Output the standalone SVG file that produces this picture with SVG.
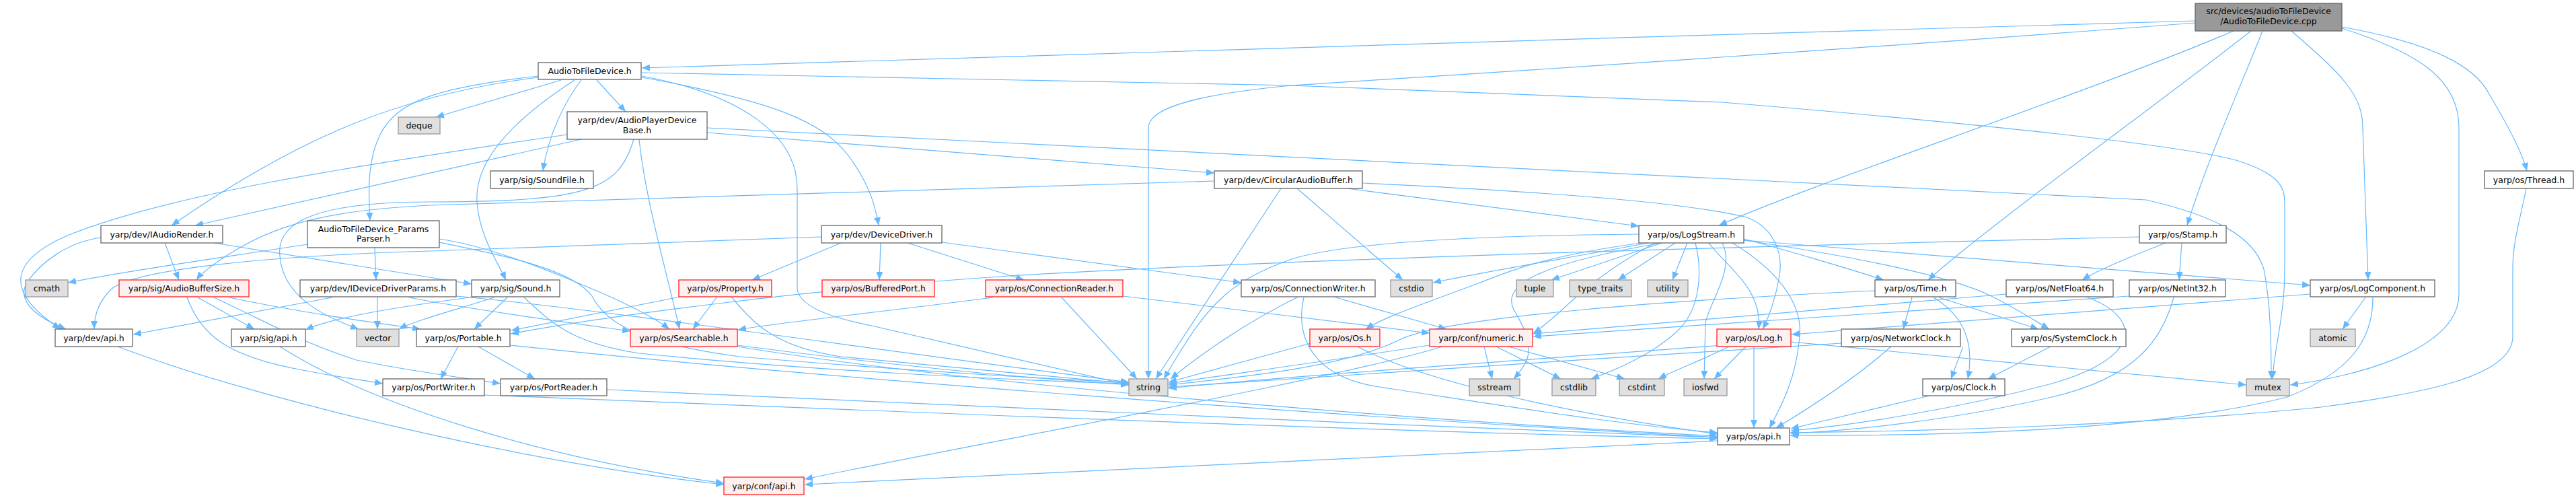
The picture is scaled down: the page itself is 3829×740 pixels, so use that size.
<svg xmlns="http://www.w3.org/2000/svg" width="3829" height="740" viewBox="0 0 3829 740">
<style>
.n rect{fill:#ffffff;stroke:#666666;stroke-width:1.3}
.r rect{fill:#fff0f0;stroke:#ff2020;stroke-width:1.3}
.g rect{fill:#e0e0e0;stroke:#999999;stroke-width:1.3}
.c rect{fill:#999999;stroke:#666666;stroke-width:1.3}
text{font-family:"DejaVu Sans","Liberation Sans",sans-serif;font-size:12.5px;text-anchor:middle;fill:#000}
#edges path{fill:none;stroke:#63b8ff;stroke-width:1.2;marker-end:url(#a)}
</style>
<defs>
<marker id="a" markerWidth="12" markerHeight="10" refX="12" refY="5" orient="auto" markerUnits="userSpaceOnUse"><path d="M0,0L12,5L0,10z" fill="#63b8ff" stroke="none"/></marker>
</defs>
<rect width="3829" height="740" fill="#ffffff"/>
<g id="edges">
<path d="M3263,31 C2500,52 1500,85 954,101"/>
<path d="M3263,34 C2600,85 2100,115 1920,127 C1780,140 1707,160 1707,190 L1707,563"/>
<path d="M3320,46 C3100,140 2700,270 2555,335"/>
<path d="M3346,46 C3200,160 2950,340 2866,416"/>
<path d="M3363,46 C3330,130 3280,240 3251,335"/>
<path d="M3406,46 C3480,110 3512,140 3512,190 L3520,416"/>
<path d="M3481,42 C3600,80 3655,120 3655,190 L3655,437 C3655,520 3500,560 3404,572"/>
<path d="M3481,40 C3620,65 3680,100 3700,140 C3730,190 3750,230 3756,254"/>
<path d="M834,119 L648,174"/>
<path d="M887,119 L930,166"/>
<path d="M864,119 C840,150 815,200 807,254"/>
<path d="M854,119 C760,180 705,240 709,300 C712,350 740,390 752,416"/>
<path d="M800,113 C650,130 590,150 565,200 C545,240 548,290 550,328"/>
<path d="M800,115 C600,140 450,200 255,335"/>
<path d="M954,115 C1150,150 1220,180 1260,230 C1290,270 1300,300 1306,335"/>
<path d="M954,113 C1100,140 1185,200 1185,280 L1185,430 C1190,460 1250,475 1300,485 L1678,572"/>
<path d="M954,108 L1920,127 L2560,152 C2900,180 3250,215 3330,240 C3390,260 3396,280 3396,300 L3396,400 C3396,470 3380,520 3378,563"/>
<path d="M843,200 C500,250 250,290 100,350 C20,385 0,430 90,489"/>
<path d="M864,207 L290,335"/>
<path d="M942,207 C920,280 880,300 640,300 C470,300 410,330 416,380 C420,440 480,470 533,489"/>
<path d="M950,207 C960,300 990,400 1010,489"/>
<path d="M1051,190 L3190,297 C3290,320 3350,350 3365,400 C3375,450 3376,510 3376,563"/>
<path d="M1051,197 L1805,257"/>
<path d="M1805,269 L640,305 C500,312 420,330 353,370 C320,390 300,405 292,416"/>
<path d="M2002,280 L2436,336"/>
<path d="M2025,272 C2300,285 2500,300 2597,323 C2640,340 2650,380 2645,410 C2640,440 2630,470 2620,489"/>
<path d="M1904,280 L1718,563"/>
<path d="M1928,280 L2085,416"/>
<path d="M3755,280 C3745,330 3735,360 3735,400 L3735,500 C3735,560 3600,585 3450,605 C3200,630 2900,640 2661,643"/>
<path d="M3527,442 C3527,500 3500,550 3400,590 C3200,640 2900,648 2661,647"/>
<path d="M3516,442 L3482,489"/>
<path d="M3434,437 L2663,497"/>
<path d="M3243,361 L3239,416"/>
<path d="M3219,361 C3170,380 3120,400 3095,416"/>
<path d="M3180,352 C2800,362 2000,380 1500,410 C1200,430 900,470 759,496"/>
<path d="M2450,361 C2350,380 2200,405 2130,420"/>
<path d="M2470,361 L2306,416"/>
<path d="M2490,361 L2405,416"/>
<path d="M2508,361 L2486,416"/>
<path d="M2440,361 C2300,380 2250,400 2200,420 C2120,450 2060,470 2030,489"/>
<path d="M2460,361 C2350,420 2320,470 2279,495"/>
<path d="M2470,361 C2300,390 2230,420 2250,460 C2280,510 2280,530 2250,563"/>
<path d="M2520,361 C2530,400 2530,460 2490,495 C2450,530 2400,550 2365,563"/>
<path d="M2560,361 C2580,400 2540,450 2535,480 L2533,563"/>
<path d="M2436,348 C2200,350 2000,360 1920,385 C1820,420 1790,460 1730,563"/>
<path d="M2540,361 C2570,400 2620,430 2614,489"/>
<path d="M2575,361 C2640,400 2680,450 2675,500 C2670,560 2650,600 2630,636"/>
<path d="M2592,355 C2650,370 2750,400 2800,416"/>
<path d="M2592,357 C2750,380 2900,410 2960,440 C3000,460 3030,480 3046,489"/>
<path d="M2592,357 L3434,424"/>
<path d="M2842,442 L2829,489"/>
<path d="M2882,442 L3030,489"/>
<path d="M2874,442 C2920,470 2935,510 2925,563"/>
<path d="M2787,432 C2500,445 2150,470 2080,505 C2000,545 1850,560 1737,572"/>
<path d="M2918,515 L2900,563"/>
<path d="M2811,515 C2760,560 2700,600 2640,636"/>
<path d="M2737,510 C2400,530 2000,560 1737,575"/>
<path d="M3048,515 L2955,563"/>
<path d="M2868,588 L2662,637"/>
<path d="M2982,437 L2279,496"/>
<path d="M3103,442 C3180,470 3190,530 3050,570 C2900,610 2750,632 2662,640"/>
<path d="M3165,440 L2279,500"/>
<path d="M3231,442 C3215,500 3180,560 3050,590 C2900,625 2750,640 2662,644"/>
<path d="M2607,515 L2607,636"/>
<path d="M2570,515 C2530,535 2490,550 2465,563"/>
<path d="M2595,515 L2548,563"/>
<path d="M2662,508 L3339,572"/>
<path d="M2560,513 C2200,540 1900,560 1737,577"/>
<path d="M2206,515 L2218,563"/>
<path d="M2224,515 L2320,563"/>
<path d="M2242,515 L2415,563"/>
<path d="M2144,515 C2000,560 1500,650 1196,712"/>
<path d="M2125,513 C1950,540 1800,560 1737,570"/>
<path d="M2018,515 C2100,560 2300,610 2553,645"/>
<path d="M1948,510 L1737,568"/>
<path d="M1985,442 L2150,489"/>
<path d="M1928,442 C1850,480 1780,530 1740,563"/>
<path d="M1938,442 C1925,500 1950,560 2050,575 C2250,605 2400,630 2553,643"/>
<path d="M1578,442 L1690,563"/>
<path d="M1476,442 C1300,465 1150,480 1097,490"/>
<path d="M1669,440 C1800,455 2000,480 2125,495"/>
<path d="M1066,441 L1030,489"/>
<path d="M1011,441 L760,491"/>
<path d="M1087,441 C1120,480 1150,515 1250,530 C1450,550 1600,563 1678,570"/>
<path d="M1096,513 C1300,540 1500,560 1678,572"/>
<path d="M1096,515 C1500,580 2200,630 2553,648"/>
<path d="M681,515 L655,563"/>
<path d="M711,515 L795,563"/>
<path d="M758,513 C1200,560 2000,620 2553,650"/>
<path d="M720,587 C1300,610 2000,640 2553,652"/>
<path d="M902,579 C1400,600 2000,630 2553,650"/>
<path d="M754,442 L705,489"/>
<path d="M705,441 C600,455 500,470 454,490"/>
<path d="M734,442 C680,460 620,475 593,489"/>
<path d="M779,442 C820,480 850,510 950,525 C1200,550 1500,565 1678,570"/>
<path d="M561,442 L561,489"/>
<path d="M494,442 L198,497"/>
<path d="M608,442 C700,460 850,480 937,492"/>
<path d="M678,440 C900,460 1300,520 1678,568"/>
<path d="M294,442 L378,489"/>
<path d="M341,442 C450,465 560,480 625,489"/>
<path d="M278,442 C300,500 340,530 450,550 C500,560 540,565 569,570"/>
<path d="M318,442 C400,480 450,510 530,535 C600,550 680,560 744,570"/>
<path d="M416,515 C550,600 800,680 1076,718"/>
<path d="M175,515 C400,600 800,690 1076,720"/>
<path d="M2553,655 C2000,680 1500,705 1196,720"/>
<path d="M150,353 C100,360 60,390 40,420 C25,445 50,470 98,489"/>
<path d="M245,361 L266,416"/>
<path d="M318,361 L701,422"/>
<path d="M457,363 C350,380 200,400 101,420"/>
<path d="M557,368 L559,416"/>
<path d="M653,355 C720,365 800,395 870,425 C930,450 970,470 995,489"/>
<path d="M653,360 C750,380 850,400 880,440 C900,480 950,510 1100,530 C1400,555 1600,565 1678,568"/>
<path d="M1221,352 C900,362 700,372 640,373 C400,380 200,400 165,430 C145,450 140,470 140,489"/>
<path d="M1250,361 L1118,416"/>
<path d="M1309,361 L1307,416"/>
<path d="M1349,361 L1522,416"/>
<path d="M1400,360 L1845,420"/>
</g>
<g id="n_cpp" class="c"><rect x="3263" y="5" width="218" height="41"/><text x="3372" y="21">src/devices/audioToFileDevice</text><text x="3372" y="36">/AudioToFileDevice.cpp</text></g>
<g id="n_atfd" class="n"><rect x="800" y="93" width="153" height="25"/><text x="876.5" y="110">AudioToFileDevice.h</text></g>
<g id="n_deque" class="g"><rect x="592" y="174" width="62" height="25"/><text x="623" y="191">deque</text></g>
<g id="n_apdb" class="n"><rect x="843" y="166" width="208" height="41"/><text x="947" y="183">yarp/dev/AudioPlayerDevice</text><text x="947" y="198">Base.h</text></g>
<g id="n_soundfile" class="n"><rect x="729" y="254" width="153" height="26"/><text x="805.5" y="271.5">yarp/sig/SoundFile.h</text></g>
<g id="n_cab" class="n"><rect x="1805" y="254" width="220" height="26"/><text x="1915" y="271.5">yarp/dev/CircularAudioBuffer.h</text></g>
<g id="n_thread" class="n"><rect x="3693" y="254" width="132" height="26"/><text x="3759" y="271.5">yarp/os/Thread.h</text></g>
<g id="n_iar" class="n"><rect x="150" y="335" width="181" height="26"/><text x="240.5" y="352.5">yarp/dev/IAudioRender.h</text></g>
<g id="n_pp" class="n"><rect x="457" y="328" width="196" height="40"/><text x="555" y="344.5">AudioToFileDevice_Params</text><text x="555" y="359">Parser.h</text></g>
<g id="n_dd" class="n"><rect x="1221" y="335" width="179" height="26"/><text x="1310.5" y="352.5">yarp/dev/DeviceDriver.h</text></g>
<g id="n_ls" class="n"><rect x="2436" y="335" width="156" height="26"/><text x="2514" y="352.5">yarp/os/LogStream.h</text></g>
<g id="n_stamp" class="n"><rect x="3180" y="335" width="129" height="26"/><text x="3244.5" y="352.5">yarp/os/Stamp.h</text></g>
<g id="n_cmath" class="g"><rect x="38" y="416" width="63" height="25"/><text x="69.5" y="433">cmath</text></g>
<g id="n_abs" class="r"><rect x="177" y="416" width="193" height="25"/><text x="273.5" y="433">yarp/sig/AudioBufferSize.h</text></g>
<g id="n_iddp" class="n"><rect x="446" y="416" width="232" height="25"/><text x="562" y="433">yarp/dev/IDeviceDriverParams.h</text></g>
<g id="n_sound" class="n"><rect x="701" y="416" width="131" height="25"/><text x="766.5" y="433">yarp/sig/Sound.h</text></g>
<g id="n_property" class="r"><rect x="1009" y="416" width="138" height="25"/><text x="1078" y="433">yarp/os/Property.h</text></g>
<g id="n_bufport" class="r"><rect x="1222" y="416" width="167" height="25"/><text x="1305.5" y="433">yarp/os/BufferedPort.h</text></g>
<g id="n_cr" class="r"><rect x="1465" y="416" width="204" height="25"/><text x="1567" y="433">yarp/os/ConnectionReader.h</text></g>
<g id="n_cw" class="n"><rect x="1845" y="416" width="199" height="25"/><text x="1944.5" y="433">yarp/os/ConnectionWriter.h</text></g>
<g id="n_cstdio" class="g"><rect x="2067" y="416" width="62" height="25"/><text x="2098" y="433">cstdio</text></g>
<g id="n_tuple" class="g"><rect x="2254" y="416" width="55" height="25"/><text x="2281.5" y="433">tuple</text></g>
<g id="n_typetraits" class="g"><rect x="2333" y="416" width="92" height="25"/><text x="2379" y="433">type_traits</text></g>
<g id="n_utility" class="g"><rect x="2449" y="416" width="60" height="25"/><text x="2479" y="433">utility</text></g>
<g id="n_time" class="n"><rect x="2787" y="416" width="120" height="25"/><text x="2847" y="433">yarp/os/Time.h</text></g>
<g id="n_netfloat" class="n"><rect x="2982" y="416" width="159" height="25"/><text x="3061.5" y="433">yarp/os/NetFloat64.h</text></g>
<g id="n_netint" class="n"><rect x="3165" y="416" width="143" height="25"/><text x="3236.5" y="433">yarp/os/NetInt32.h</text></g>
<g id="n_logcomp" class="n"><rect x="3434" y="416" width="185" height="25"/><text x="3526.5" y="433">yarp/os/LogComponent.h</text></g>
<g id="n_devapi" class="n"><rect x="82" y="489" width="115" height="26"/><text x="139.5" y="506.5">yarp/dev/api.h</text></g>
<g id="n_sigapi" class="n"><rect x="344" y="489" width="110" height="26"/><text x="399" y="506.5">yarp/sig/api.h</text></g>
<g id="n_vector" class="g"><rect x="530" y="489" width="63" height="26"/><text x="561.5" y="506.5">vector</text></g>
<g id="n_portable" class="n"><rect x="619" y="489" width="139" height="26"/><text x="688.5" y="506.5">yarp/os/Portable.h</text></g>
<g id="n_searchable" class="r"><rect x="937" y="489" width="159" height="26"/><text x="1016.5" y="506.5">yarp/os/Searchable.h</text></g>
<g id="n_os" class="r"><rect x="1947" y="489" width="104" height="26"/><text x="1999" y="506.5">yarp/os/Os.h</text></g>
<g id="n_numeric" class="r"><rect x="2125" y="489" width="153" height="26"/><text x="2201.5" y="506.5">yarp/conf/numeric.h</text></g>
<g id="n_log" class="r"><rect x="2552" y="489" width="110" height="26"/><text x="2607" y="506.5">yarp/os/Log.h</text></g>
<g id="n_netclock" class="n"><rect x="2737" y="489" width="177" height="26"/><text x="2825.5" y="506.5">yarp/os/NetworkClock.h</text></g>
<g id="n_sysclock" class="n"><rect x="2990" y="489" width="170" height="26"/><text x="3075" y="506.5">yarp/os/SystemClock.h</text></g>
<g id="n_atomic" class="g"><rect x="3434" y="489" width="67" height="26"/><text x="3467.5" y="506.5">atomic</text></g>
<g id="n_portwriter" class="n"><rect x="569" y="563" width="151" height="25"/><text x="644.5" y="580">yarp/os/PortWriter.h</text></g>
<g id="n_portreader" class="n"><rect x="744" y="563" width="158" height="25"/><text x="823" y="580">yarp/os/PortReader.h</text></g>
<g id="n_string" class="g"><rect x="1678" y="563" width="58" height="25"/><text x="1707" y="580">string</text></g>
<g id="n_sstream" class="g"><rect x="2184" y="563" width="75" height="25"/><text x="2221.5" y="580">sstream</text></g>
<g id="n_cstdlib" class="g"><rect x="2307" y="563" width="65" height="25"/><text x="2339.5" y="580">cstdlib</text></g>
<g id="n_cstdint" class="g"><rect x="2407" y="563" width="67" height="25"/><text x="2440.5" y="580">cstdint</text></g>
<g id="n_iosfwd" class="g"><rect x="2503" y="563" width="64" height="25"/><text x="2535" y="580">iosfwd</text></g>
<g id="n_clock" class="n"><rect x="2858" y="563" width="122" height="25"/><text x="2919" y="580">yarp/os/Clock.h</text></g>
<g id="n_mutex" class="g"><rect x="3339" y="563" width="64" height="25"/><text x="3371" y="580">mutex</text></g>
<g id="n_osapi" class="n"><rect x="2553" y="636" width="107" height="25"/><text x="2606.5" y="653">yarp/os/api.h</text></g>
<g id="n_confapi" class="r"><rect x="1076" y="709" width="119" height="26"/><text x="1135.5" y="726.5">yarp/conf/api.h</text></g>
</svg>
